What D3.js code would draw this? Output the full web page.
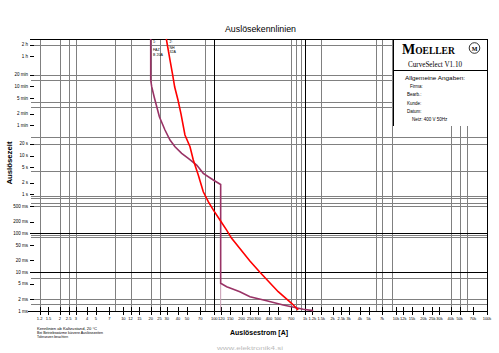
<!DOCTYPE html>
<html>
<head>
<meta charset="utf-8">
<script src="https://cdn.jsdelivr.net/npm/d3@7/dist/d3.min.js"></script>
<style>
body{margin:0;background:#fff;}
svg{display:block;font-family:"Liberation Sans",Arial,sans-serif;}
</style>
</head>
<body>
<svg id="chart" width="499" height="353"></svg>
<script>
// courbes : [courant A, temps s]
var redCurve = [[29.7,10000],[32.6,2877],[34.9,1183],[36.7,581],[39.9,269],[43.1,117],[47.6,33.8],
    [54.1,16.9],[58.8,7.69],[66.7,3.16],[75.7,1.17],[85.9,0.65],[97.5,0.40],[115.5,0.22],[136.8,0.121],
    [155.3,0.074],[246.6,0.0194],[318,0.0099],[505,0.00314],[709,0.00158],[838,0.00106]];
var purpleCurve = [[20,10000],[20,879],[20.5,592],[21.8,327],[23.3,181],[24.9,100],[28.7,45.5],[32.6,25.1],
    [37,16.9],[43.8,11.4],[51.8,8.5],[64.1,5.7],[75.7,3.49],[97.5,2.35],[117.6,1.8],[117.6,0.00516],
    [137,0.00422],[162,0.00362],[191,0.00314],[247,0.00233],[377,0.00184],[573,0.00143],[951,0.00111],[1224,0.00102]];
var purpleTail = [[117.6,0.00516],[117.6,0.001]];

// axe des temps
var yTicks = [0.001,0.002,0.005,0.01,0.02,0.05,0.1,0.2,0.5,1,2,5,10,20,60,120,300,600,1200,3600,7200];
var yLabels = ["1 ms","2 ms","5 ms","10 ms","20 ms","50 ms","100 ms","200 ms","500 ms","1 s","2 s","5 s",
    "10 s","20 s","1 min","2 min","5 min","10 min","20 min","1 h","2 h"];
var hGrid = [7200,1200,900,240,180,30,20,4,0.9,0.8,0.6,0.5,0.09,0.08,0.007,0.002,0.0015];
var hBlack = [0.1,0.01];

// axe des courants
var xTicks = [1.2,1.5,2,2.5,3,4,5,7,10,12,15,20,25,30,40,50,70,100,120,150,200,250,300,400,500,700,
    1000,1200,1500,2000,2500,3000,4000,5000,7000,10000,12000,15000,20000,25000,30000,40000,50000,70000,100000];
var vGrid = [1.2,2,2.5,3,8,12,20,25,80,700,800,900,1500,6000,7000,9000,40000,50000,60000];
var vBlack = [100,1000];

var curveNames1 = ["1:","FAZ","B 20A"];
var curveNames2 = ["2:","NH","32A"];
var infoLines = ["Firma:","Bearb.:","Kunde:","Datum:","Netz: 400 V 50Hz"];
var footLines = ["Kennlinien ab Kaltzustand, 20 °C","Bei Betriebswärme kürzere Auslösezeiten","Toleranzen beachten"];

var svg = d3.select("#chart");
var x = d3.scaleLog().domain([0.94, 1e5]).range([30, 487]);
var y = d3.scaleLog().domain([0.001, 10000]).range([311, 39]);
var px = function(v){ return Math.round(v) + 0.5; };

var g = svg.append("g").attr("shape-rendering","crispEdges");

// grille
g.selectAll(".hg").data(hGrid).enter().append("line")
    .attr("x1",31).attr("x2",487)
    .attr("y1",function(d){ return px(y(d)); }).attr("y2",function(d){ return px(y(d)); })
    .attr("stroke","#808080");
g.selectAll(".vg").data(vGrid).enter().append("line")
    .attr("y1",39).attr("y2",311)
    .attr("x1",function(d){ return px(x(d)); }).attr("x2",function(d){ return px(x(d)); })
    .attr("stroke","#808080");
g.selectAll(".hb").data(hBlack).enter().append("line")
    .attr("x1",31).attr("x2",487)
    .attr("y1",function(d){ return px(y(d)); }).attr("y2",function(d){ return px(y(d)); })
    .attr("stroke","#000");
g.selectAll(".vb").data(vBlack).enter().append("line")
    .attr("y1",39).attr("y2",311)
    .attr("x1",function(d){ return px(x(d)); }).attr("x2",function(d){ return px(x(d)); })
    .attr("stroke","#000");

// cadre
g.append("line").attr("x1",30).attr("x2",487.5).attr("y1",39.5).attr("y2",39.5).attr("stroke","#000");
g.append("line").attr("x1",487.5).attr("x2",487.5).attr("y1",39).attr("y2",311).attr("stroke","#000");
g.append("line").attr("x1",28).attr("x2",488).attr("y1",311.5).attr("y2",311.5).attr("stroke","#000");

// cartouche
g.append("rect").attr("x",393).attr("y",40).attr("width",94).attr("height",86).attr("fill","#fff");
g.append("line").attr("x1",393.5).attr("x2",393.5).attr("y1",39).attr("y2",126).attr("stroke","#000");
g.append("line").attr("x1",393).attr("x2",487).attr("y1",70.5).attr("y2",70.5).attr("stroke","#000");

var logo = svg.append("text").attr("x",402).attr("y",53.5)
    .style("font-family","'Liberation Serif','DejaVu Serif',serif").style("font-weight","bold");
logo.append("tspan").style("font-size","14px").text("M");
logo.append("tspan").style("font-size","9.5px").text("OELLER");
svg.append("circle").attr("cx",474.5).attr("cy",48).attr("r",5.3).attr("fill","none").attr("stroke","#000").attr("stroke-width",0.8);
svg.append("text").attr("x",474.5).attr("y",50.5).attr("text-anchor","middle")
    .style("font-family","'Liberation Serif',serif").style("font-size","6px").style("font-weight","bold").text("M");
svg.append("text").attr("x",408).attr("y",67).attr("textLength",54).attr("lengthAdjust","spacingAndGlyphs")
    .style("font-family","'Liberation Serif',serif").style("font-size","7.5px").text("CurveSelect  V1.10");
svg.append("text").attr("x",405).attr("y",80).attr("textLength",60).attr("lengthAdjust","spacingAndGlyphs")
    .style("font-size","6px").text("Allgemeine Angaben:");
svg.selectAll(".info").data(infoLines).enter().append("text")
    .attr("x",function(d,i){ return i == 0 ? 410 : (i == 4 ? 412 : 407); })
    .attr("y",function(d,i){ return 88 + i*8.3; })
    .style("font-size","4.5px").text(function(d){ return d; });

// graduations
var tk = svg.append("g");
tk.selectAll(".yt").data(yTicks).enter().append("line")
    .attr("x1",30).attr("x2",34)
    .attr("y1",function(d){ return px(y(d)); }).attr("y2",function(d){ return px(y(d)); })
    .attr("stroke","#000").attr("shape-rendering","crispEdges");
tk.selectAll(".yl").data(yTicks).enter().append("text")
    .attr("x",28).attr("y",function(d){ return y(d) + 1.6; })
    .attr("text-anchor","end").style("font-size","4.5px")
    .text(function(d,i){ return yLabels[i]; });
tk.selectAll(".xt").data(xTicks).enter().append("line")
    .attr("y1",307).attr("y2",315)
    .attr("x1",function(d){ return px(x(d)); }).attr("x2",function(d){ return px(x(d)); })
    .attr("stroke","#000").attr("shape-rendering","crispEdges");
var fmtX = function(d){ return d >= 1000 ? (d/1000) + "k" : "" + d; };
tk.selectAll(".xl").data(xTicks).enter().append("text")
    .attr("x",function(d){ return x(d); }).attr("y",319.5)
    .attr("text-anchor","middle").style("font-size","4px")
    .text(fmtX);

// courbes
var line = d3.line().x(function(d){ return x(d[0]); }).y(function(d){ return y(d[1]); });
svg.append("path").attr("d",line(purpleTail)).attr("fill","none").attr("stroke","#c79ab0").attr("stroke-width",1);
svg.append("path").attr("d",line(purpleCurve)).attr("fill","none").attr("stroke","#993366").attr("stroke-width",1.6);
svg.append("path").attr("d",line(redCurve)).attr("fill","none").attr("stroke","#ff0000").attr("stroke-width",1.6);

svg.selectAll(".n1").data(curveNames1).enter().append("text")
    .attr("x",153).attr("y",function(d,i){ return [43,50.5,56][i]; })
    .style("font-size","3.6px").text(function(d){ return d; });
svg.selectAll(".n2").data(curveNames2).enter().append("text")
    .attr("x",169.5).attr("y",function(d,i){ return [43,48.5,52.5][i]; })
    .style("font-size","3.6px").text(function(d){ return d; });

// titres
svg.append("text").attr("x",225).attr("y",31.5).attr("textLength",71).attr("lengthAdjust","spacingAndGlyphs")
    .style("font-size","9px").text("Auslösekennlinien");
svg.append("text").attr("transform","translate(11.8,141.5) rotate(-90)").attr("text-anchor","end")
    .attr("textLength",43).attr("lengthAdjust","spacingAndGlyphs")
    .style("font-size","7px").style("font-weight","bold").text("Auslösezeit");
svg.append("text").attr("x",230).attr("y",335).attr("textLength",58).attr("lengthAdjust","spacingAndGlyphs")
    .style("font-size","7.5px").style("font-weight","bold").text("Auslösestrom [A]");

svg.selectAll(".foot").data(footLines).enter().append("text")
    .attr("x",37).attr("y",function(d,i){ return 329.5 + i*4.2; })
    .attr("textLength",function(d,i){ return [60,66,31][i]; }).attr("lengthAdjust","spacingAndGlyphs")
    .style("font-size","3.6px").text(function(d){ return d; });

svg.append("text").attr("x",217).attr("y",350).attr("textLength",66).attr("lengthAdjust","spacingAndGlyphs")
    .style("font-size","6px").attr("fill","#bbb").text("www.elektronik4.si");
</script>
</body>
</html>
